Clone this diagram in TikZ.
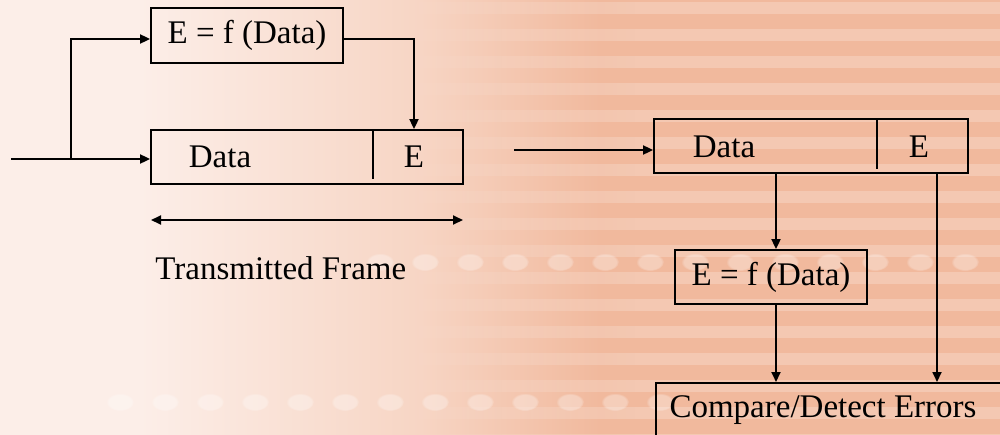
\documentclass[tikz,border=0pt]{standalone}
\usepackage{fontspec}
\setmainfont{Liberation Serif}
\usetikzlibrary{arrows.meta,fadings}

% background palette
\definecolor{bgpale}{HTML}{FCEEE8}
\definecolor{bgmid}{HTML}{F7D5C4}
\definecolor{bgdeep}{HTML}{F1B99D}
\pgfdeclarehorizontalshading{bgshade}{100bp}{%
  color(0bp)=(bgpale); color(32bp)=(bgpale); color(46bp)=(bgmid);
  color(55bp)=(bgdeep); color(100bp)=(bgdeep)}
\tikzfading[name=stripein, left color=transparent!100, right color=transparent!0]

\begin{document}
\begin{tikzpicture}[x=0.5pt, y={(0pt,-0.5pt)},
  font=\fontsize{16.5}{19}\selectfont,
  box/.style={draw, line width=0.9pt, inner sep=0pt},
  conn/.style={line width=0.9pt, -{Triangle[length=5pt,width=4.5pt]}},
  both/.style={line width=0.9pt, {Triangle[length=5pt,width=4.5pt]}-{Triangle[length=5pt,width=4.5pt]}},
  plain/.style={line width=0.9pt},
  stripe/.style={white, fill opacity=0.22},
  blob/.style={white, fill opacity=0.3, path fading=circle with fuzzy edge 20 percent}]

% ---- background: pale-to-salmon wash with horizontal bands
\useasboundingbox (0,0) rectangle (1000,434);
\clip (0,0) rectangle (1000,434);
\shade[shading=bgshade] (0,0) rectangle (1000,434);
\foreach \y in {2,29,...,434} {
  \fill[stripe, path fading=stripein] (400,\y) rectangle (640,\y+12);
  \fill[stripe] (640,\y) rectangle (1000,\y+12);
}
\foreach \x in {380,425,...,1000} \fill[blob] (\x,262) ellipse (14 and 9);
\foreach \x in {120,165,...,660} \fill[blob] (\x,402) ellipse (14 and 9);

% ---- sender side
\node[box, minimum width=96pt, minimum height=27.5pt] (encL) at (247,35.5) {E = f (Data)};
\node[box, minimum width=156pt, minimum height=27pt] (frmL) at (307,157) {};
\node (datL) at (220,157) {Data};
\node (eL) at (414,157) {E};
\coordinate (divL) at (373,179);
\draw[plain] (divL |- frmL.north) -- (divL);

\coordinate (inL) at (11,159);
\coordinate (splL) at (71,159);
\draw[plain] (inL) -- (splL);
\draw[conn] (splL) -- (splL -| frmL.west);
\draw[conn] (splL) |- ([yshift=-1.75pt]encL.west);
\draw[conn] ([yshift=-1.75pt]encL.east) -| (eL |- frmL.north);

\coordinate (tfA) at (151,220);
\coordinate (tfB) at (463,220);
\draw[both] (tfA) -- (tfB);
\node[anchor=west, inner sep=0pt] (tfLbl) at (155,268) {Transmitted Frame};

% ---- receiver side
\node[box, minimum width=157pt, minimum height=27pt] (frmR) at (811,146) {};
\node (datR) at (724,147) {Data};
\node (eR) at (919,147) {E};
\coordinate (divR) at (877,169);
\draw[plain] (divR |- frmR.north) -- (divR);

\coordinate (inR) at (514,150);
\draw[conn] (inR) -- (inR -| frmR.west);

\node[box, minimum width=96pt, minimum height=27pt] (encR) at (771,277) {E = f (Data)};
\node[box, anchor=north west, minimum width=182pt, minimum height=36pt] (cmp) at (655,382) {};
\node (cmpTxt) at (823,410) {Compare/Detect Errors};

\coordinate (tapD) at (776,0);
\coordinate (tapE) at (937,0);
\draw[conn] (frmR.south -| tapD) -- (encR.north -| tapD);
\draw[conn] (encR.south -| tapD) -- (cmp.north -| tapD);
\draw[conn] (frmR.south -| tapE) -- (cmp.north -| tapE);
\end{tikzpicture}
\end{document}
